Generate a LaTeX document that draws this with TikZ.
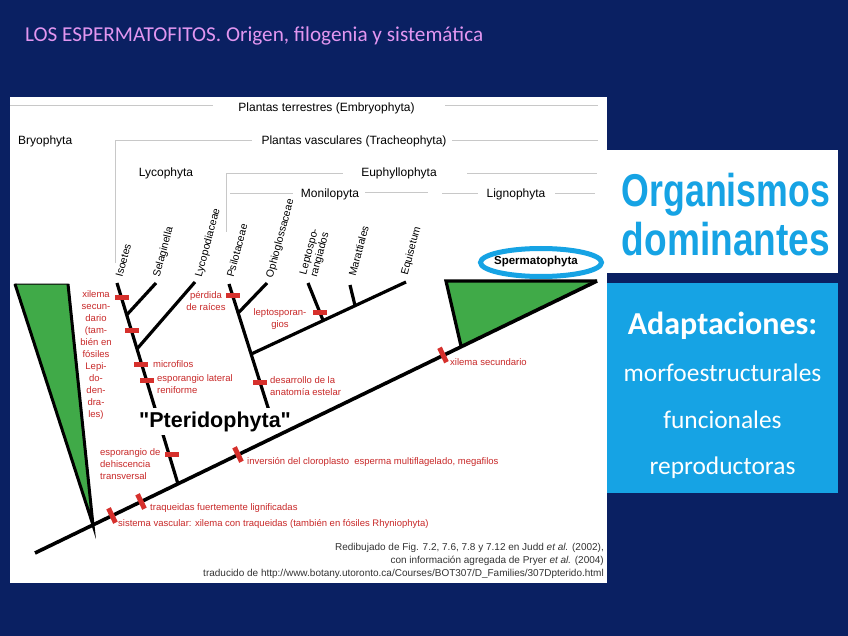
\documentclass[tikz,border=0pt]{standalone}
\usepackage{fontspec}
\setmainfont{Liberation Sans}
\newfontfamily\calibri{Carlito}
\newfontfamily\plainsans{Liberation Sans}
\usetikzlibrary{calc}
\definecolor{navy}{RGB}{10,32,98}
\definecolor{titlepink}{RGB}{226,150,240}
\definecolor{skyblue}{RGB}{22,163,228}
\definecolor{leafgreen}{RGB}{64,170,72}
\definecolor{mkred}{RGB}{214,48,44}
\definecolor{txtred}{RGB}{200,40,40}
\definecolor{hdrgray}{RGB}{200,200,200}
\tikzset{
  hline/.style={draw=hdrgray,line width=0.8pt},
  hdr/.style={font=\fontsize{12}{14}\selectfont,inner sep=0pt,text=black},
  taxon/.style={font=\fontsize{10.5}{11}\selectfont,rotate=75,anchor=west,inner sep=0pt,align=left},
  branch/.style={draw=black,line width=3.2pt},
  mainline/.style={draw=black,line width=3.6pt},
  mk/.style={rectangle,fill=mkred,inner sep=0pt,minimum width=14pt,minimum height=5pt},
  mkd/.style={rectangle,fill=mkred,inner sep=0pt,minimum width=5pt,minimum height=16pt,rotate=25.9},
  redtxt/.style={font=\fontsize{9.5}{12}\selectfont,text=txtred,inner sep=0pt},
  cite/.style={font=\fontsize{10}{12}\selectfont,text=black!80,inner sep=0pt,anchor=base east},
  bigtxt/.style={text=skyblue,font=\bfseries\fontsize{46}{50}\selectfont,inner sep=0pt,anchor=base},
  adtxt/.style={text=white,font=\calibri\fontsize{25.4}{28}\selectfont,inner sep=0pt,anchor=base},
}
\begin{document}
\begin{tikzpicture}[x=1pt,y=-1pt]
\fill[navy] (0,0) rectangle (848,636);
\useasboundingbox (0,0) rectangle (848,636);

% title
\node[anchor=west,text=titlepink,font=\calibri\fontsize{21.2}{24}\selectfont,inner sep=0pt] (title) at (25,36) {LOS ESPERMATOFITOS. Origen, filogenia y sistemática};

% white panel
\node[fill=white,anchor=north west,minimum width=597pt,minimum height=486pt,inner sep=0pt] (panel) at (10,97) {};

% right boxes
\node[fill=white,anchor=north west,minimum width=231pt,minimum height=123pt,inner sep=0pt] (orgbox) at (607,150) {};
\node[bigtxt] (org1) at (726,207) {\scalebox{0.776}[1]{Organismos}};
\node[bigtxt] (org2) at (726,256) {\scalebox{0.806}[1]{dominantes}};
\node[fill=skyblue,anchor=north west,minimum width=231pt,minimum height=210pt,inner sep=0pt] (adbox) at (607,283) {};
\node[text=white,font=\calibri\bfseries\fontsize{32}{36}\selectfont,inner sep=0pt,anchor=base] (adapt) at (722.5,334) {Adaptaciones:};
\node[adtxt] (ad1) at (722.5,381) {morfoestructurales};
\node[adtxt] (ad2) at (722.5,428) {funcionales};
\node[adtxt] (ad3) at (722.5,474) {reproductoras};

% header lines and labels
\coordinate (h1a) at (10,105);  \coordinate (h1b) at (213,105);
\coordinate (h1c) at (445,105); \coordinate (h1d) at (598,105);
\draw[hline] (h1a) -- (h1b); \draw[hline] (h1c) -- (h1d);
\node[hdr] (embryo) at (326.5,108) {Plantas terrestres (Embryophyta)};
\node[hdr,anchor=west] (bryo) at (18,141) {Bryophyta};

\coordinate (h2v) at (115,263); \coordinate (h2a) at (115,140); \coordinate (h2b) at (252,140);
\coordinate (h2c) at (452,140); \coordinate (h2d) at (598,140);
\draw[hline] (h2v) -- (h2a) -- (h2b); \draw[hline] (h2c) -- (h2d);
\node[hdr] (trach) at (354,141) {Plantas vasculares (Tracheophyta)};

\node[hdr] (lyco) at (166,173) {Lycophyta};
\coordinate (h3v) at (226,232); \coordinate (h3a) at (226,173); \coordinate (h3b) at (343,173);
\coordinate (h3c) at (467,173); \coordinate (h3d) at (597,173);
\draw[hline] (h3v) -- (h3a) -- (h3b); \draw[hline] (h3c) -- (h3d);
\node[hdr] (euphy) at (399,173) {Euphyllophyta};

\coordinate (h4a) at (230,193); \coordinate (h4b) at (293,193);
\coordinate (h4c) at (365,192); \coordinate (h4d) at (428,192);
\draw[hline] (h4a) -- (h4b); \draw[hline] (h4c) -- (h4d);
\node[hdr] (monil) at (330,194) {Monilopyta};
\coordinate (h5a) at (442,193); \coordinate (h5b) at (478,193);
\coordinate (h5c) at (555,193); \coordinate (h5d) at (595,193);
\draw[hline] (h5a) -- (h5b); \draw[hline] (h5c) -- (h5d);
\node[hdr] (ligno) at (516,194) {Lignophyta};

% tree coordinates
\coordinate (m0) at (35,553);
\coordinate (mB) at (93,525);
\coordinate (mL) at (178,484);
\coordinate (mM) at (277,436);
\coordinate (mS) at (461,346);
\coordinate (m1) at (597,281);

\coordinate (tIso) at (117,283);
\coordinate (tSel) at (156,283);
\coordinate (tLyc) at (195,282);
\coordinate (jSel) at ($(mL)!0.841!(tIso)$);
\coordinate (jLyc) at ($(mL)!0.672!(tIso)$);

\coordinate (tPsi) at (229,284);
\coordinate (tOph) at (267,283);
\coordinate (tEqu) at (406,282);
\coordinate (jOph) at ($(mM)!0.809!(tPsi)$);
\coordinate (jMon) at ($(mM)!0.539!(tPsi)$);
\coordinate (tLep) at (308,283);
\coordinate (tMar) at (350,285);
\coordinate (jLep) at ($(jMon)!0.465!(tEqu)$);
\coordinate (jMar) at ($(jMon)!0.671!(tEqu)$);

\coordinate (bA) at (15,284); \coordinate (bC) at (68,284);
\coordinate (sA) at (446,281);

% green triangles
\filldraw[fill=leafgreen,draw=black,line width=1pt] (bA) -- (bC) -- (mB) -- cycle;
\draw[line width=3pt,line join=miter] (bA) -- (mB) -- (bC);
\fill[leafgreen] (mS) -- (sA) -- (m1) -- cycle;
\draw[line width=3.2pt,line join=miter] (mS) -- (sA) -- (m1);

% branches
\draw[branch] (mL) -- (tIso);
\draw[branch] (jSel) -- (tSel);
\draw[branch] (jLyc) -- (tLyc);
\draw[branch] (mM) -- (tPsi);
\draw[branch] (jOph) -- (tOph);
\draw[branch] (jMon) -- (tEqu);
\draw[branch] (jLep) -- (tLep);
\draw[branch] (jMar) -- (tMar);

% Pteridophyta label
\node[fill=white,inner xsep=2pt,inner ysep=3.5pt,font=\plainsans\bfseries\fontsize{21.5}{24}\selectfont,anchor=base] (pterido) at (215,427) {"Pteridophyta"};

% main line
\draw[mainline] (m0) -- (m1);

% taxon labels
\node[taxon] (lIso) at (119,277) {Isoetes};
\node[taxon] (lSel) at (157,277) {Selaginella};
\node[taxon] (lLyc) at (199,277) {Lycopodiaceae};
\node[taxon] (lPsi) at (230,277) {Psilotaceae};
\node[taxon] (lOph) at (270,278) {Ophioglossaceae};
\node[taxon] (lLep) at (309,276) {Leptospo-\\rangiados};
\node[taxon] (lMar) at (352,276) {Marattiales};
\node[taxon] (lEqu) at (405,275) {Equisetum};

% Spermatophyta
\draw[draw=skyblue,line width=5pt] (541,262.5) ellipse [x radius=60.5pt, y radius=14pt];
\node[font=\bfseries\fontsize{11.5}{13}\selectfont,inner sep=0pt] (sperm) at (536,262) {Spermatophyta};

% markers
\node[mk] (k1) at (121.5,297) {};
\node[mk] (k2) at (132,330.5) {};
\node[mk] (k3) at (140.5,364.5) {};
\node[mk] (k4) at (147,380.5) {};
\node[mk] (k5) at (232.5,295.5) {};
\node[mk] (k6) at (319.5,312.5) {};
\node[mk] (k7) at (259.5,382.5) {};
\node[mk] (k9) at (171.5,454.5) {};
\node[mkd] (k8) at (443,355) {};
\node[mkd] (k10) at (238,454.5) {};
\node[mkd] (k11) at (141,501.5) {};
\node[mkd] (k12) at (112,515.5) {};

% red texts
\node[redtxt,anchor=north,align=center] (rXil) at (96,290) {xilema\\secun-\\dario\\(tam-\\bién en\\fósiles\\Lepi-\\do-\\den-\\dra-\\les)};
\node[redtxt,anchor=west] (rMic) at (153,364.5) {microfilos};
\node[redtxt,anchor=north west,align=left] (rEsp) at (157,374) {esporangio lateral\\reniforme};
\node[redtxt,anchor=north,align=center] (rPer) at (206,291) {pérdida\\de raíces};
\node[redtxt,anchor=north,align=center] (rLep) at (280,308) {leptosporan-\\gios};
\node[redtxt,anchor=north west,align=left] (rDes) at (270,376) {desarrollo de la\\anatomía estelar};
\node[redtxt,anchor=west] (rXs) at (450,362) {xilema secundario};
\node[redtxt,anchor=north west,align=left] (rDeh) at (100,448) {esporangio de\\dehiscencia\\transversal};
\node[redtxt,anchor=west] (rInv) at (247,462) {inversión del cloroplasto\ \ esperma multiflagelado, megafilos};
\node[redtxt,anchor=west] (rTra) at (150,508) {traqueidas fuertemente lignificadas};
\node[redtxt,anchor=west] (rSis) at (118,524) {sistema vascular: xilema con traqueidas (también en fósiles Rhyniophyta)};

% citation
\node[cite] (c1) at (604,550.5) {Redibujado de Fig. 7.2, 7.6, 7.8 y 7.12 en Judd \textit{et al.} (2002),};
\node[cite] (c2) at (604,563.5) {con información agregada de Pryer \textit{et al.} (2004)};
\node[cite] (c3) at (604,576.5) {traducido de http://www.botany.utoronto.ca/Courses/BOT307/D\_Families/307Dpterido.html};
\end{tikzpicture}
\end{document}
